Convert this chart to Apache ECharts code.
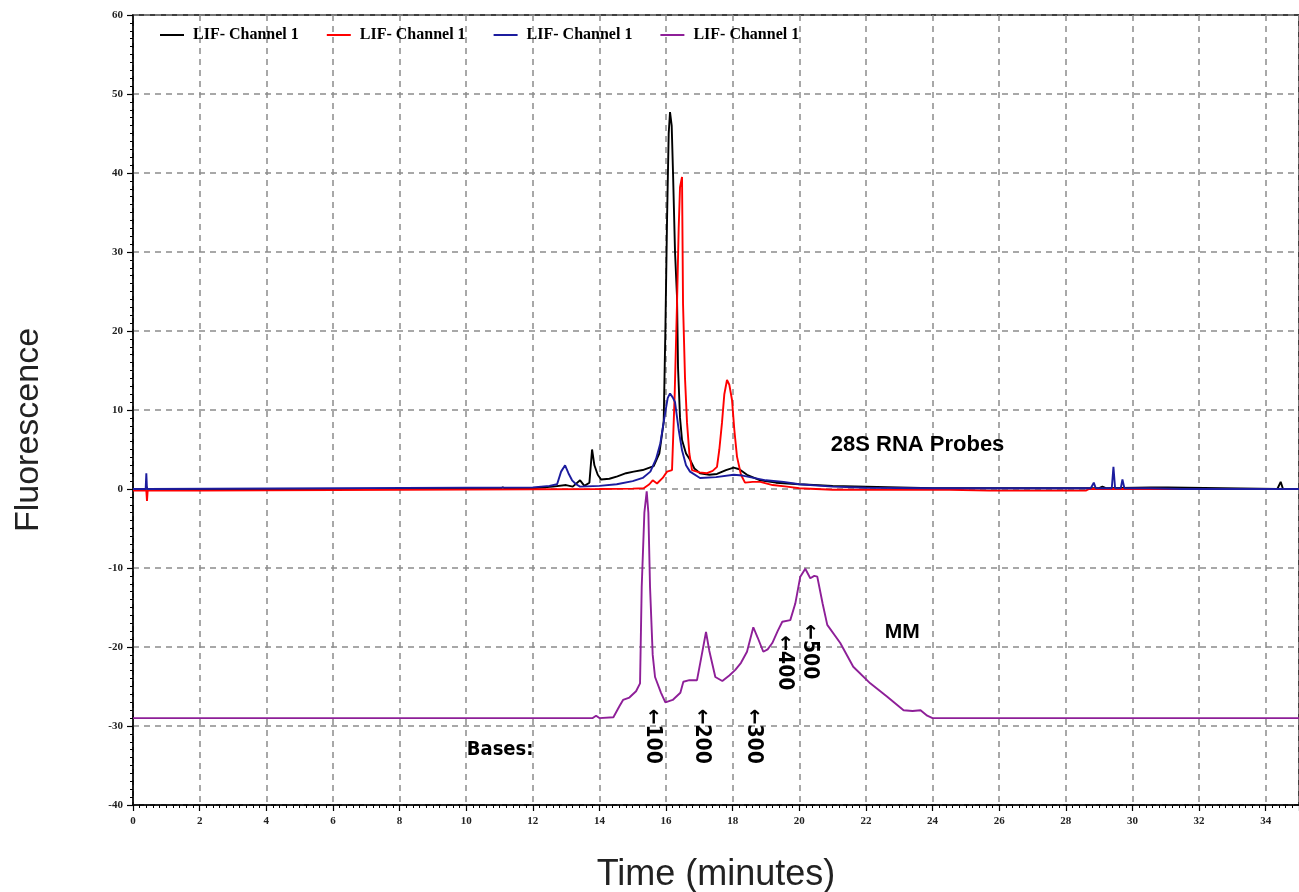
<!DOCTYPE html>
<html>
<head>
<meta charset="utf-8">
<script src="https://cdn.jsdelivr.net/npm/echarts/dist/echarts.min.js"></script>
<style>
  html, body { margin: 0; padding: 0; background: #fff; }
  #chart { width: 1299px; height: 892px; }
</style>
</head>
<body>
<div id="chart"></div>
<script>
// traces, [time (min), fluorescence]
const blackTrace = [
  [0, 0], [0.38, 0], [0.4, 0.3], [0.43, 0], [11, 0], [11.1, 0.2], [11.2, 0], [12, 0.1], [12.6, 0.3],
  [13.0, 0.5], [13.2, 0.3], [13.42, 1.1], [13.55, 0.4], [13.7, 0.8], [13.78, 5.0], [13.85, 3.0],
  [13.95, 1.8], [14.05, 1.2], [14.3, 1.3], [14.54, 1.6], [14.8, 2.0], [15.03, 2.2], [15.3, 2.4],
  [15.63, 2.9], [15.8, 4.5], [15.93, 8.5], [15.98, 20], [16.03, 34], [16.08, 45], [16.12, 47.7],
  [16.17, 46], [16.21, 40], [16.27, 30], [16.33, 24.3], [16.36, 15.4], [16.42, 9], [16.48, 6.2],
  [16.6, 4.5], [16.72, 3.7], [16.85, 2.6], [17.02, 2.0], [17.3, 1.8], [17.53, 1.9], [17.8, 2.4],
  [18.03, 2.7], [18.2, 2.5], [18.43, 1.8], [18.83, 1.1], [19.3, 0.8], [20, 0.6], [21, 0.4], [22, 0.3],
  [23, 0.2], [24, 0.1], [29, 0.1], [29.1, 0.3], [29.2, 0.1], [30.55, 0.2], [31.06, 0.2], [31.1, 0],
  [34.35, 0], [34.45, 0.9], [34.52, 0], [35, 0]
];
const redTrace = [
  [0, -0.2], [0.4, -0.2], [0.42, -1.5], [0.44, -0.2], [2, -0.2], [2.05, 0], [14.0, 0], [15.0, 0.05],
  [15.33, 0.1], [15.5, 0.6], [15.6, 1.1], [15.73, 0.7], [15.9, 1.4], [16.03, 2.2], [16.18, 2.4],
  [16.26, 12], [16.33, 23.5], [16.38, 33], [16.42, 38.2], [16.48, 39.5], [16.51, 23.5], [16.57, 14],
  [16.63, 8.4], [16.7, 4.5], [16.78, 2.4], [17.0, 2.1], [17.23, 2.0], [17.4, 2.3], [17.53, 2.8],
  [17.6, 5], [17.68, 8.4], [17.75, 12], [17.83, 13.8], [17.9, 13.2], [17.98, 11.3], [18.05, 7.5],
  [18.13, 4.1], [18.25, 1.8], [18.37, 0.8], [18.6, 0.9], [18.83, 0.9], [19.2, 0.5], [19.63, 0.3],
  [20, 0.1], [21, -0.1], [24.5, -0.1], [25.7, -0.2], [28.6, -0.2], [28.7, 0], [31.8, 0], [31.85, 0.2],
  [31.9, 0], [35, 0]
];
const blueTrace = [
  [0, 0], [0.38, 0], [0.4, 2.0], [0.42, 0], [12, 0.2], [12.5, 0.4], [12.73, 0.6], [12.85, 2.2],
  [12.97, 3.0], [13.07, 2.0], [13.18, 1.1], [13.3, 0.6], [13.42, 0.3], [14.0, 0.4], [14.52, 0.6],
  [15.0, 1.0], [15.3, 1.4], [15.53, 2.2], [15.7, 3.8], [15.83, 5.8], [15.95, 9], [16.05, 11.5],
  [16.12, 12.1], [16.2, 11.6], [16.27, 11.0], [16.38, 7.5], [16.48, 4.9], [16.6, 3.0], [16.72, 2.2],
  [17.02, 1.4], [17.5, 1.5], [18.03, 1.8], [18.3, 1.7], [18.63, 1.4], [19.0, 1.1], [19.53, 0.9],
  [20.0, 0.6], [21, 0.3], [22, 0.15], [24, 0.1], [28.75, 0.1], [28.84, 0.8], [28.9, 0.1],
  [29.38, 0.1], [29.43, 2.8], [29.48, 0.1], [29.65, 0.1], [29.7, 1.2], [29.76, 0.1], [30.5, 0.1],
  [31.5, 0], [35, 0]
];
const purpleTrace = [
  [0, -29], [13.8, -29], [13.9, -28.7], [14.0, -29], [14.42, -28.9], [14.6, -27.5], [14.71, -26.7],
  [14.9, -26.4], [15.1, -25.6], [15.22, -24.6], [15.27, -12.4], [15.35, -3], [15.42, -0.3],
  [15.47, -3], [15.52, -12.4], [15.6, -21], [15.67, -23.8], [15.85, -25.8], [15.98, -27.0],
  [16.2, -26.7], [16.43, -25.8], [16.52, -24.4], [16.7, -24.2], [16.93, -24.2], [17.05, -21.5],
  [17.2, -18.1], [17.3, -20.5], [17.48, -23.8], [17.69, -24.3], [17.9, -23.6], [18.08, -22.9],
  [18.25, -22.0], [18.43, -20.6], [18.62, -17.5], [18.75, -18.8], [18.92, -20.6], [19.05, -20.3],
  [19.19, -19.5], [19.35, -18], [19.49, -16.8], [19.73, -16.6], [19.88, -14.5], [20.03, -11.1],
  [20.18, -10.1], [20.33, -11.3], [20.45, -11.0], [20.54, -11.1], [20.7, -14.5], [20.84, -17.2],
  [21.23, -19.5], [21.62, -22.5], [22.13, -24.6], [22.64, -26.3], [23.13, -28.0], [23.4, -28.1],
  [23.64, -28.0], [23.84, -28.7], [24.0, -29], [35, -29]
];

const seriesNames = ['ch1', 'ch2', 'ch3', 'ch4'];
const legendText = 'LIF- Channel 1';
const seriesColors = ['#000000', '#ff0000', '#1c1c9e', '#8e1f98'];

// annotation texts and where they sit [time, fluorescence]
const noteTexts = ['28S RNA Probes', 'MM', 'Bases:'];
const notePos = [[23.55, 5.6], [23.09, -18.1], [11.02, -33.0]];
const baseTexts = ['\u2190100', '\u2190200', '\u2190300', '\u2190400', '\u2190500'];
const basePos = [[15.6, -31.3], [17.07, -31.3], [18.61, -31.3], [19.55, -22.0], [20.31, -20.6]];

const tickFont = { fontFamily: 'Liberation Serif', fontWeight: 'bold', fontSize: 11, color: '#222' };
const gridDash = { color: '#8c8c8c', width: 1.5, type: [6, 5] };
const narrowFont = '"Liberation Sans Narrow", "DejaVu Sans Condensed", "Liberation Sans"';

let chart = echarts.init(document.getElementById('chart'));

let traceSeries = [blackTrace, redTrace, blueTrace, purpleTrace].map((d, i) => ({
  name: seriesNames[i],
  type: 'line',
  data: d,
  showSymbol: false,
  symbol: 'none',
  color: seriesColors[i],
  lineStyle: { width: 1.9, color: seriesColors[i] },
  z: i === 3 ? 2 : 3 + i,
}));

let noteData = noteTexts.map((t, i) => ({
  value: notePos[i],
  label: {
    formatter: t,
    fontFamily: i === 2 ? narrowFont : 'Liberation Sans',
    fontWeight: 'bold',
    fontSize: i === 2 ? 20 : i === 0 ? 22 : 21,
    color: '#000',
  },
}));
let baseData = baseTexts.map((t, i) => ({
  value: basePos[i],
  label: {
    formatter: t,
    rotate: -90,
    fontFamily: narrowFont,
    fontWeight: 'bold',
    fontSize: 21,
    color: '#000',
  },
}));

let option = {
  animation: false,
  backgroundColor: '#fff',
  grid: {
    left: 133,
    right: 0,
    top: 15,
    bottom: 87,
    show: true,
    borderColor: '#000',
    borderWidth: 1.5,
    outerBoundsMode: 'none',
  },
  legend: {
    data: seriesNames,
    left: 155,
    top: 22,
    icon: 'rect',
    itemWidth: 24,
    itemHeight: 2,
    itemGap: 28,
    formatter: () => legendText,
    textStyle: {
      fontFamily: 'Liberation Serif',
      fontWeight: 'bold',
      fontSize: 16,
      color: '#000',
      padding: [0, 0, 0, 4],
    },
  },
  xAxis: {
    type: 'value',
    min: 0,
    max: 35,
    interval: 2,
    name: 'Time (minutes)',
    nameLocation: 'middle',
    nameGap: 52,
    nameTextStyle: { fontFamily: 'Liberation Sans', fontSize: 36, color: '#222' },
    axisLine: { show: true, onZero: false, lineStyle: { color: '#000', width: 1.5 } },
    axisTick: { show: true, length: 6, lineStyle: { color: '#000', width: 1.2 } },
    minorTick: { show: true, splitNumber: 10, length: 3, lineStyle: { color: '#000', width: 1 } },
    axisLabel: {
      ...tickFont,
      margin: 11,
      showMaxLabel: false,
      formatter: (v) => (v % 2 === 0 ? String(v) : ''),
    },
    splitLine: { show: true, lineStyle: gridDash },
  },
  yAxis: {
    type: 'value',
    min: -40,
    max: 60,
    interval: 10,
    name: 'Fluorescence',
    nameLocation: 'middle',
    nameRotate: 90,
    nameGap: 87,
    nameTextStyle: {
      fontFamily: 'Liberation Sans',
      fontSize: 34,
      color: '#222',
      padding: [0, 40, 0, 0],
    },
    axisLine: { show: true, onZero: false, lineStyle: { color: '#000', width: 1.5 } },
    axisTick: { show: true, length: 6, lineStyle: { color: '#000', width: 1.2 } },
    minorTick: { show: true, splitNumber: 10, length: 3, lineStyle: { color: '#000', width: 1 } },
    axisLabel: { ...tickFont, margin: 10 },
    splitLine: { show: true, lineStyle: gridDash },
  },
  series: [
    ...traceSeries,
    {
      name: 'notes',
      type: 'scatter',
      symbolSize: 1,
      itemStyle: { color: 'rgba(0,0,0,0)', opacity: 1 },
      label: { show: true, position: 'inside', textBorderWidth: 0 },
      data: noteData.concat(baseData),
      z: 10,
    },
  ],
}

chart.setOption(option)
</script>
</body>
</html>
